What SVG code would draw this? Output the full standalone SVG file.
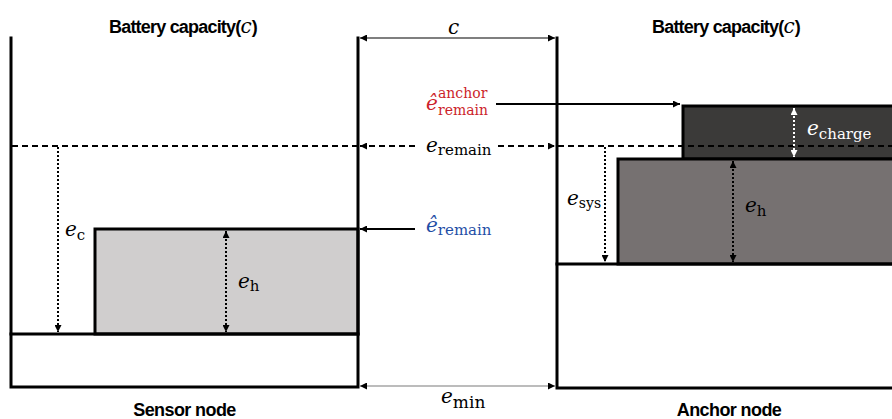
<svg xmlns="http://www.w3.org/2000/svg" width="892" height="419" viewBox="0 0 892 419">
<style>
.wall{fill:none;stroke:#000;stroke-width:3;stroke-linecap:square}
.box{stroke:#000;stroke-width:3}
.title{font-family:"Liberation Sans",Arial,sans-serif;font-weight:bold;font-size:18px;letter-spacing:-0.8px;fill:#000}
.math{font-family:"DejaVu Serif","Liberation Serif",serif;fill:#000}
.red{fill:#cc1f2a}
.blue{fill:#1f4ea6}
.white{fill:#fff}
.mi{font-style:italic;font-size:20px}
.sub{font-size:15px}
.dash{fill:none;stroke:#000;stroke-width:2;stroke-dasharray:6 4}
.dot{fill:none;stroke:#000;stroke-width:2;stroke-dasharray:2 2}
.solid{fill:none;stroke:#000;stroke-width:2}
.thin{fill:none;stroke:#000;stroke-width:1.2}
</style>
<defs>
<marker id="ah" viewBox="0 0 10 10" refX="10" refY="5" markerWidth="8" markerHeight="7" markerUnits="userSpaceOnUse" orient="auto-start-reverse"><path d="M0,0 L10,5 L0,10 z" fill="#000"/></marker>
<marker id="ahw" viewBox="0 0 10 10" refX="10" refY="5" markerWidth="8" markerHeight="7" markerUnits="userSpaceOnUse" orient="auto-start-reverse"><path d="M0,0 L10,5 L0,10 z" fill="#fff"/></marker>
</defs>
<g id="sensor-node">
<rect x="95" y="229" width="263" height="105" fill="#d0cece" class="box"/>
<path class="wall" d="M11,38 V387 H358 V38"/>
<line class="wall" x1="11" y1="334" x2="358" y2="334"/>
<text class="title" x="109" y="33">Battery capacity(<tspan font-family="DejaVu Serif,serif" font-style="italic" font-weight="normal" font-size="20" letter-spacing="0">c</tspan>)</text>
<text class="title" x="184.5" y="416" text-anchor="middle" style="letter-spacing:-0.6px">Sensor node</text>
</g>
<g id="anchor-node">
<rect x="683" y="106" width="215" height="53" fill="#3b3a39" class="box"/>
<rect x="618" y="159" width="280" height="105" fill="#767171" class="box"/>
<path class="wall" d="M557,38 V388 H898"/>
<line class="wall" x1="557" y1="264" x2="898" y2="264"/>
<text class="title" x="652" y="33">Battery capacity(<tspan font-family="DejaVu Serif,serif" font-style="italic" font-weight="normal" font-size="20" letter-spacing="0">c</tspan>)</text>
<text class="title" x="729" y="416" text-anchor="middle" style="letter-spacing:-0.6px">Anchor node</text>
</g>
<g id="connectors">
<line class="dash" x1="12" y1="146" x2="358" y2="146"/>
<line class="dash" x1="415" y1="146" x2="360" y2="146" marker-end="url(#ah)"/>
<line class="dash" x1="498" y1="146" x2="555" y2="146" marker-end="url(#ah)"/>
<line class="dash" x1="558" y1="146" x2="892" y2="146"/>
<line class="thin" x1="360" y1="38" x2="555" y2="38" marker-start="url(#ah)" marker-end="url(#ah)"/>
<line fill="none" stroke="#a6a6a6" stroke-width="1.6" x1="360" y1="386" x2="555" y2="386" marker-start="url(#ah)" marker-end="url(#ah)"/>
<line class="solid" x1="415" y1="229" x2="360" y2="229" marker-end="url(#ah)"/>
<line class="solid" x1="496" y1="104" x2="680" y2="104" marker-end="url(#ah)"/>
<line class="dot" x1="58" y1="147" x2="58" y2="332" marker-end="url(#ah)"/>
<line class="dot" x1="226" y1="231" x2="226" y2="332" marker-start="url(#ah)" marker-end="url(#ah)"/>
<line class="dot" x1="605" y1="147" x2="605" y2="262" marker-end="url(#ah)"/>
<line class="dot" x1="733" y1="161" x2="733" y2="262" marker-start="url(#ah)" marker-end="url(#ah)"/>
<line class="dot" style="stroke:#fff" x1="794" y1="108" x2="794" y2="157" marker-start="url(#ahw)" marker-end="url(#ahw)"/>
</g>
<g id="labels">
<text class="math mi" x="448" y="34">c</text>
<text class="math red" x="426" y="110"><tspan class="mi">ê</tspan></text>
<text class="math red" x="438" y="98" font-size="14">anchor</text>
<text class="math red" x="438" y="114.5" font-size="14">remain</text>
<text class="math" x="426" y="152"><tspan class="mi">e</tspan><tspan class="sub" dy="3">remain</tspan></text>
<text class="math blue" x="426" y="232"><tspan class="mi">ê</tspan><tspan class="sub" dy="3">remain</tspan></text>
<text class="math" x="65" y="236"><tspan class="mi">e</tspan><tspan class="sub" dy="4">c</tspan></text>
<text class="math" x="238" y="288"><tspan class="mi">e</tspan><tspan class="sub" dy="3">h</tspan></text>
<text class="math" x="567" y="205"><tspan class="mi">e</tspan><tspan font-size="14" dy="3">sys</tspan></text>
<text class="math" x="745" y="212"><tspan class="mi">e</tspan><tspan class="sub" dy="4">h</tspan></text>
<text class="math white" x="807" y="135"><tspan class="mi">e</tspan><tspan class="sub" dy="4">charge</tspan></text>
<text class="math" x="441" y="403"><tspan class="mi">e</tspan><tspan font-size="17" dy="5">min</tspan></text>
</g>
</svg>
